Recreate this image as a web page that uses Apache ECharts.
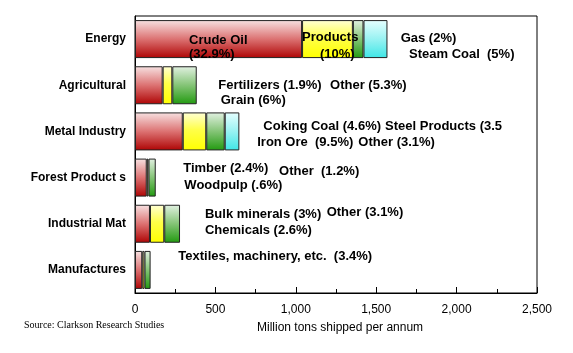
<!DOCTYPE html>
<html>
<head>
<meta charset="utf-8">
<script src="https://cdn.jsdelivr.net/npm/echarts@6/dist/echarts.min.js"></script>
<style>html,body{margin:0;padding:0;background:#fff;}#c{width:573px;height:353px;}</style>
</head>
<body>
<div id="c"></div>
<script>
// ---- data ----
var categories = ['Energy', 'Agricultural', 'Metal Industry', 'Forest Product s', 'Industrial Mat', 'Manufactures'];
var seg1 = [1039, 172, 297, 73, 93, 45];   // crude oil, grain, iron ore, timber, bulk minerals, textiles
var seg2 = [316, 60, 146, 11, 89, 14];     // products, fertilizers, coking coal, woodpulp, chemicals
var seg3 = [66, 152, 115, 45, 98, 38];     // gas, other, steel products, other, other
var seg4 = [149, '-', 91, '-', '-', '-'];  // steam coal, -, other
var xTicks = [0, 500, 1000, 1500, 2000, 2500];
// annotation texts: [text, x value, category]
var annoText = ['Crude Oil', '(32.9%)', 'Products', '(10%)', 'Gas (2%)', 'Steam Coal  (5%)',
  'Fertilizers (1.9%)', 'Other (5.3%)', 'Grain (6%)',
  'Coking Coal (4.6%)', 'Steel Products (3.5', 'Iron Ore  (9.5%)', 'Other (3.1%)',
  'Timber (2.4%)', 'Other  (1.2%)', 'Woodpulp (.6%)',
  'Bulk minerals (3%)', 'Other (3.1%)', 'Chemicals (2.6%)',
  'Textiles, machinery, etc.  (3.4%)'];
var annoX = [336, 336, 1039, 1150, 1652, 1704,
  518, 1213, 533,
  798, 1555, 760, 1389,
  300, 896, 307,
  435, 1192, 435,
  269];
var annoCat = [0, 0, 0, 0, 0, 0, 1, 1, 1, 2, 2, 2, 2, 3, 3, 3, 4, 4, 4, 5];
var annoDy = [1, 15, -2, 15, -1, 15, 0, 0, 15, -5, -5, 11, 11, -9, -6, 8, -9, -11, 7, -13];

function grad(stops) {
  return new echarts.graphic.LinearGradient(0, 0, 0, 1, stops.map(function (s) { return { offset: s[0], color: s[1] }; }));
}
var colors = [
  grad([[0, '#f7e2e2'], [0.5, '#dc7272'], [1, '#ae0404']]),
  grad([[0, '#ffffd6'], [0.45, '#ffff4a'], [1, '#ffff00']]),
  grad([[0, '#e2f1e2'], [0.5, '#84c476'], [1, '#229a10']]),
  grad([[0, '#e6ffff'], [0.5, '#98f2f2'], [1, '#3ee6e6']])
];
var segs = [seg1, seg2, seg3, seg4];
var FONT = '"Liberation Sans", Arial, Helvetica, sans-serif';

var series = segs.map(function (d, i) {
  return {
    type: 'bar', stack: 'total', data: d, barWidth: 38,
    itemStyle: { color: colors[i], borderColor: '#222', borderWidth: 1 },
    animation: false, silent: true
  };
});
series.push({
  type: 'scatter', symbolSize: 0, animation: false, silent: true, z: 10,
  itemStyle: { opacity: 1 },
  data: annoText.map(function (t, i) {
    return {
      name: t, value: [annoX[i], categories[annoCat[i]]],
      label: { offset: [0, annoDy[i]] }
    };
  }),
  label: {
    show: true, position: 'inside', align: 'left', verticalAlign: 'middle',
    formatter: function (p) { return p.name; }, opacity: 1,
    color: '#000', fontFamily: FONT, fontWeight: 'bold', fontSize: 13
  }
});

var chart = echarts.init(document.getElementById('c'), null, { renderer: 'canvas' });
chart.setOption({
  backgroundColor: '#fff',
  animation: false,
  grid: { left: 135, right: 36, top: 16, bottom: 60, show: true, borderColor: '#000', borderWidth: 1 },
  xAxis: {
    type: 'value', min: xTicks[0], max: xTicks[xTicks.length - 1], interval: 500,
    axisLine: { show: true, lineStyle: { color: '#000', width: 1 } },
    axisTick: { show: true, inside: true, length: 6, lineStyle: { color: '#000' } },
    minorTick: { show: true, splitNumber: 2, length: 4, lineStyle: { color: '#000' } },
    splitLine: { show: false },
    axisLabel: {
      color: '#000', fontFamily: FONT, fontSize: 12, margin: 11,
      formatter: function (v) { return v.toLocaleString('en-US'); }
    }
  },
  yAxis: {
    type: 'category', data: categories, inverse: true,
    axisLine: { show: true, lineStyle: { color: '#000', width: 1 } },
    axisTick: { show: true, inside: true, alignWithLabel: true, length: 5, lineStyle: { color: '#333' } },
    axisLabel: { color: '#000', fontFamily: FONT, fontWeight: 'bold', fontSize: 12, margin: 9, padding: [4, 0, 0, 0] }
  },
  graphic: [
    { type: 'text', left: 257, top: 322, style: { text: 'Million tons shipped per annum', fill: '#000', font: '12px ' + FONT } },
    { type: 'text', left: 24, top: 320, style: { text: 'Source: Clarkson Research Studies', fill: '#000', font: '10px "Liberation Serif", "Times New Roman", serif' } }
  ],
  series: series
});
</script>
</body>
</html>
